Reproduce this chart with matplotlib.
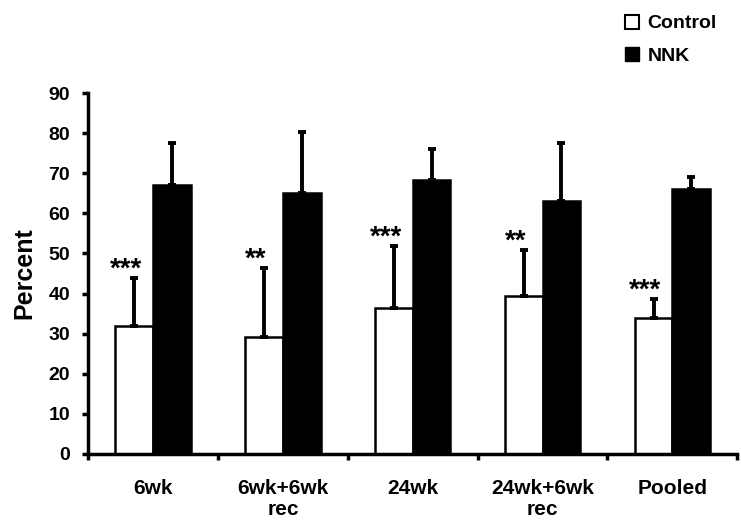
import matplotlib
matplotlib.use("Agg")
import matplotlib.pyplot as plt
import numpy as np
from matplotlib.lines import Line2D

groups = ["6wk", "6wk+6wk\nrec", "24wk", "24wk+6wk\nrec", "Pooled"]
control = [32.0, 29.1, 36.3, 39.3, 34.0]
control_err = [11.9, 17.2, 15.6, 11.5, 4.6]
nnk = [67.0, 65.0, 68.3, 63.0, 66.0]
nnk_err = [10.6, 15.3, 7.7, 14.6, 3.1]
stars = ["***", "**", "***", "**", "***"]

plt.rcParams["font.family"] = ["Liberation Sans", "DejaVu Sans"]
plt.rcParams["font.weight"] = "bold"

fig = plt.figure(figsize=(7.41, 5.26), dpi=100)
ax = fig.add_axes([0.119, 0.137, 0.876, 0.686])

x = np.arange(len(groups)) + 0.5
w = 0.29
ekw = dict(elinewidth=2.8, capsize=2.6, capthick=2.8, ecolor="black")
ax.bar(x - w / 2, control, w, color="white", edgecolor="black", lw=1.8,
       yerr=[np.zeros(len(control)), control_err], error_kw=ekw, zorder=2)
ax.bar(x + w / 2, nnk, w, color="black", edgecolor="black", lw=1.8,
       yerr=[np.zeros(len(nnk)), nnk_err], error_kw=ekw, zorder=2)

for xi, c, e, s in zip(x, control, control_err, stars):
    ax.annotate(s, (xi - w / 2, c + e), xytext=(-6, 1), textcoords="offset points",
                ha="center", va="baseline", fontsize=20)

ax.set_xlim(0, len(groups))
ax.set_ylim(0, 90)
ax.set_yticks(range(0, 91, 10))
ax.set_xticks(range(len(groups) + 1))
ax.set_xticklabels([])
ax.set_xticks(x, minor=True)
ax.set_xticklabels(groups, minor=True)
for t in ax.get_xticklabels(minor=True):
    t.set_linespacing(1.15)
ax.tick_params(axis="x", which="minor", length=0, pad=18, labelsize=15)
ax.tick_params(axis="x", which="major", length=4, width=2.5, direction="out")
ax.tick_params(axis="y", length=4, width=2.5, labelsize=14, pad=9)
for sp in ["top", "right"]:
    ax.spines[sp].set_visible(False)
for sp in ["left", "bottom"]:
    ax.spines[sp].set_linewidth(2.5)
ax.set_ylabel("Percent", fontsize=18, fontweight="bold", labelpad=9)

handles = [Line2D([], [], marker="s", ls="", ms=10, mfc="white", mec="black", mew=1.5),
           Line2D([], [], marker="s", ls="", ms=10, mfc="black", mec="black")]
fig.legend(handles, ["Control", "NNK"], loc="upper left", bbox_to_anchor=(0.82, 1.005),
           frameon=False, fontsize=14, handlelength=0.7, handletextpad=0.45,
           labelspacing=0.75)

fig.savefig("out.png", dpi=100)
